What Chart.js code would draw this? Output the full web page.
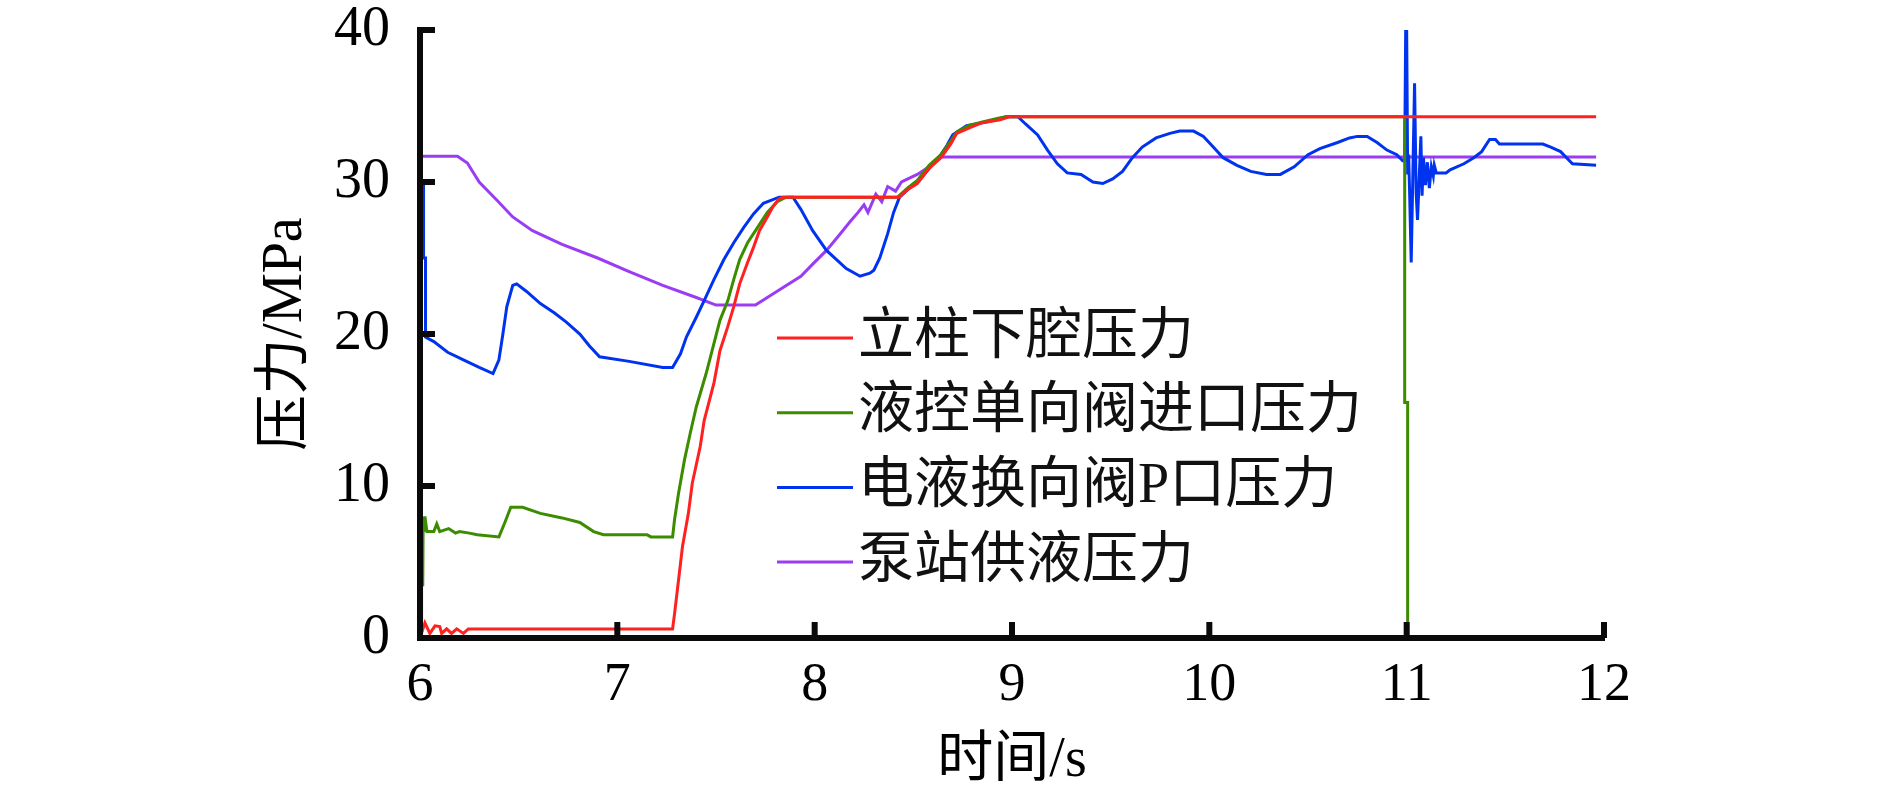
<!DOCTYPE html>
<html>
<head>
<meta charset="utf-8">
<script src="https://cdn.jsdelivr.net/npm/chart.js@4.4.1/dist/chart.umd.min.js"></script>
<style>
  html, body { margin: 0; padding: 0; background: #fff; }
</style>
</head>
<body>
<canvas id="myChart" width="1890" height="798"></canvas>
<script>
// series names (legend order)
const seriesNames = ["立柱下腔压力", "液控单向阀进口压力", "电液换向阀P口压力", "泵站供液压力"];
const seriesColors = ["#ff2020", "#3c8c00", "#0033f0", "#9b3cf5"];

// 立柱下腔压力
const redT = [6.0, 6.01, 6.025, 6.05, 6.076, 6.1, 6.11, 6.135, 6.16, 6.186, 6.22, 6.245, 7.28, 7.29, 7.31, 7.33, 7.36, 7.38, 7.42, 7.44, 7.49, 7.52, 7.56, 7.59, 7.62, 7.66, 7.69, 7.72, 7.76, 7.79, 7.82, 7.84, 8.43, 8.47, 8.52, 8.58, 8.64, 8.69, 8.72, 8.79, 8.85, 8.94, 8.99, 11.96];
const redP = [0.2, 0.4, 1.0, 0.3, 0.8, 0.75, 0.3, 0.6, 0.3, 0.6, 0.3, 0.6, 0.6, 1.6, 3.8, 6.0, 8.2, 10.2, 12.6, 14.3, 16.8, 18.9, 20.5, 21.8, 23.3, 24.7, 25.7, 26.8, 27.7, 28.4, 28.9, 29.0, 29.0, 29.5, 29.9, 30.9, 31.6, 32.5, 33.2, 33.6, 33.9, 34.1, 34.3, 34.3];

// 液控单向阀进口压力
const greenT = [6.008, 6.008, 6.014, 6.016, 6.02, 6.025, 6.035, 6.07, 6.085, 6.1, 6.145, 6.18, 6.2, 6.25, 6.29, 6.4, 6.43, 6.46, 6.52, 6.61, 6.72, 6.81, 6.88, 6.93, 7.15, 7.17, 7.28, 7.29, 7.31, 7.34, 7.37, 7.4, 7.45, 7.49, 7.52, 7.56, 7.59, 7.62, 7.66, 7.71, 7.76, 7.81, 7.84, 7.86, 8.42, 8.47, 8.52, 8.58, 8.64, 8.69, 8.72, 8.78, 8.85, 8.93, 8.97, 10.99, 10.99, 11.005, 11.005, 11.96];
const greenP = [0.2, 3.5, 3.5, 8.0, 7.0, 8.0, 7.0, 7.0, 7.5, 7.0, 7.2, 6.9, 7.0, 6.9, 6.8, 6.65, 7.6, 8.6, 8.6, 8.2, 7.9, 7.6, 7.0, 6.8, 6.8, 6.65, 6.65, 7.8, 9.5, 11.7, 13.5, 15.2, 17.4, 19.4, 20.9, 22.2, 23.6, 24.9, 26.0, 27.0, 28.0, 28.7, 28.9, 29.0, 29.0, 29.6, 30.1, 31.1, 31.8, 32.7, 33.3, 33.7, 33.95, 34.2, 34.3, 34.3, 15.5, 15.5, 0.0, 0.0];

// 电液换向阀P口压力
const blueT = [6.018, 6.018, 6.028, 6.028, 6.07, 6.14, 6.22, 6.3, 6.37, 6.4, 6.42, 6.44, 6.47, 6.49, 6.54, 6.61, 6.68, 6.74, 6.81, 6.86, 6.91, 7.06, 7.23, 7.28, 7.32, 7.35, 7.4, 7.44, 7.49, 7.54, 7.59, 7.64, 7.69, 7.74, 7.82, 7.89, 7.93, 7.99, 8.06, 8.16, 8.23, 8.28, 8.3, 8.33, 8.37, 8.4, 8.43, 8.48, 8.53, 8.6, 8.64, 8.67, 8.7, 8.77, 8.85, 8.92, 8.97, 9.03, 9.07, 9.13, 9.18, 9.23, 9.28, 9.35, 9.41, 9.46, 9.51, 9.56, 9.61, 9.66, 9.73, 9.8, 9.85, 9.92, 9.97, 10.02, 10.07, 10.14, 10.21, 10.29, 10.36, 10.43, 10.5, 10.56, 10.65, 10.71, 10.75, 10.8, 10.85, 10.9, 10.95, 10.98, 10.99, 10.995, 11.0, 11.005, 11.01, 11.015, 11.023, 11.04, 11.048, 11.055, 11.072, 11.078, 11.085, 11.095, 11.105, 11.115, 11.125, 11.135, 11.14, 11.15, 11.2, 11.22, 11.29, 11.34, 11.38, 11.42, 11.45, 11.47, 11.69, 11.73, 11.78, 11.81, 11.84, 11.96];
const blueP = [29.8, 25.0, 25.0, 19.8, 19.5, 18.8, 18.3, 17.8, 17.4, 18.3, 20.0, 21.8, 23.2, 23.3, 22.8, 22.0, 21.4, 20.8, 20.0, 19.2, 18.5, 18.2, 17.8, 17.8, 18.7, 19.8, 21.1, 22.2, 23.6, 24.9, 26.0, 27.0, 27.9, 28.6, 29.0, 29.0, 28.2, 26.8, 25.5, 24.3, 23.8, 24.0, 24.2, 25.0, 26.6, 28.0, 29.0, 29.6, 30.1, 31.2, 31.8, 32.4, 33.1, 33.7, 33.9, 34.1, 34.3, 34.3, 33.8, 33.1, 32.1, 31.2, 30.6, 30.5, 30.0, 29.9, 30.2, 30.7, 31.6, 32.3, 32.9, 33.2, 33.35, 33.35, 33.0, 32.3, 31.6, 31.1, 30.7, 30.5, 30.5, 31.0, 31.8, 32.2, 32.6, 32.9, 33.0, 33.0, 32.6, 32.1, 31.8, 31.4, 31.4, 40.0, 40.0, 30.5, 31.8, 29.3, 24.7, 36.5, 29.3, 27.5, 33.0, 29.1, 31.6, 29.8, 31.3, 29.6, 31.0, 30.4, 31.1, 30.6, 30.6, 30.8, 31.2, 31.6, 32.0, 32.8, 32.8, 32.5, 32.5, 32.3, 32.0, 31.6, 31.2, 31.1];

// 泵站供液压力
const purpleT = [6.0, 6.19, 6.24, 6.3, 6.39, 6.47, 6.57, 6.72, 6.9, 7.06, 7.23, 7.4, 7.5, 7.7, 7.82, 7.93, 7.99, 8.06, 8.13, 8.18, 8.22, 8.25, 8.27, 8.31, 8.34, 8.37, 8.41, 8.44, 8.52, 8.58, 8.64, 11.96];
const purpleP = [31.7, 31.7, 31.25, 30.0, 28.8, 27.7, 26.8, 25.9, 25.0, 24.1, 23.2, 22.4, 21.9, 21.9, 22.9, 23.8, 24.6, 25.5, 26.6, 27.4, 28.0, 28.5, 28.0, 29.2, 28.7, 29.7, 29.4, 30.0, 30.5, 31.0, 31.65, 31.65];

// axis ticks
const xTicks = [6, 7, 8, 9, 10, 11, 12];
const yTicks = [0, 10, 20, 30, 40];

const seriesT = [redT, greenT, blueT, purpleT];
const seriesP = [redP, greenP, blueP, purpleP];

const axisColor = "#0a0a0a";
const fontFamily = '"Liberation Serif", "Noto Sans CJK SC", serif';

function toPoints(ts, ps) {
  return ts.map((t, i) => ({ x: t, y: ps[i] }));
}

// tick marks pointing into the plot
const inwardTicks = {
  id: "inwardTicks",
  afterDraw(chart) {
    const { ctx, chartArea, scales: { x, y } } = chart;
    ctx.save();
    ctx.strokeStyle = axisColor;
    ctx.lineWidth = 6;
    ctx.beginPath();
    xTicks.forEach((v) => {
      const px = x.getPixelForValue(v);
      ctx.moveTo(px, chartArea.bottom);
      ctx.lineTo(px, chartArea.bottom - 16);
    });
    yTicks.forEach((v) => {
      const py = y.getPixelForValue(v);
      ctx.moveTo(chartArea.left, py);
      ctx.lineTo(chartArea.left + 15, py);
    });
    ctx.stroke();
    ctx.restore();
  }
};

// legend inside the plot
const plotLegend = {
  id: "plotLegend",
  afterDraw(chart) {
    const { ctx, chartArea } = chart;
    ctx.save();
    ctx.font = "56px " + fontFamily;
    ctx.textBaseline = "middle";
    ctx.textAlign = "left";
    chart.data.datasets.forEach((ds, i) => {
      const yy = chartArea.top + 308 + i * 74.7;
      const x0 = chartArea.left + 357;
      ctx.strokeStyle = ds.borderColor;
      ctx.lineWidth = 3;
      ctx.beginPath();
      ctx.moveTo(x0, yy);
      ctx.lineTo(x0 + 76, yy);
      ctx.stroke();
      ctx.fillStyle = "#111";
      ctx.fillText(ds.label, x0 + 81, yy);
    });
    ctx.restore();
  }
};

const ctx = document.getElementById("myChart");

new Chart(ctx, {
  type: "line",
  data: {
    datasets: seriesNames.map((name, i) => ({
      label: name,
      data: toPoints(seriesT[i], seriesP[i]),
      borderColor: seriesColors[i],
      backgroundColor: seriesColors[i],
      borderWidth: 3,
      pointRadius: 0,
      tension: 0,
      fill: false
    }))
  },
  options: {
    responsive: false,
    animation: false,
    layout: { padding: { left: 250, top: 30, right: 286, bottom: 0 } },
    plugins: {
      legend: { display: false },
      tooltip: { enabled: false }
    },
    scales: {
      x: {
        type: "linear",
        min: 6,
        max: 12,
        grid: { display: false, drawTicks: false },
        border: { display: true, width: 6, color: axisColor, z: 1 },
        afterBuildTicks: (s) => { s.ticks = xTicks.map((v) => ({ value: v })); },
        ticks: {
          color: "#000",
          padding: 21,
          font: { family: fontFamily, size: 54, lineHeight: 1.0 }
        },
        title: {
          display: true,
          text: "时间/s",
          color: "#000",
          font: { family: fontFamily, size: 56, lineHeight: 1.2 },
          padding: { top: 0, bottom: 3 }
        },
        afterFit: (s) => { s.height = 160; s.paddingLeft = 0; s.paddingRight = 0; }
      },
      y: {
        min: 0,
        max: 40,
        grid: { display: false, drawTicks: false },
        border: { display: true, width: 6, color: axisColor, z: 1 },
        afterBuildTicks: (s) => { s.ticks = yTicks.map((v) => ({ value: v })); },
        ticks: {
          color: "#000",
          padding: 30,
          font: { family: fontFamily, size: 56, lineHeight: 1.0 }
        },
        title: {
          display: true,
          text: "压力/MPa",
          color: "#000",
          font: { family: fontFamily, size: 56, lineHeight: 1.2 },
          padding: { top: 3, bottom: 0 }
        },
        afterFit: (s) => { s.width = 170; s.paddingTop = 0; s.paddingBottom = 0; }
      }
    }
  },
  plugins: [inwardTicks, plotLegend]
});
</script>
</body>
</html>
